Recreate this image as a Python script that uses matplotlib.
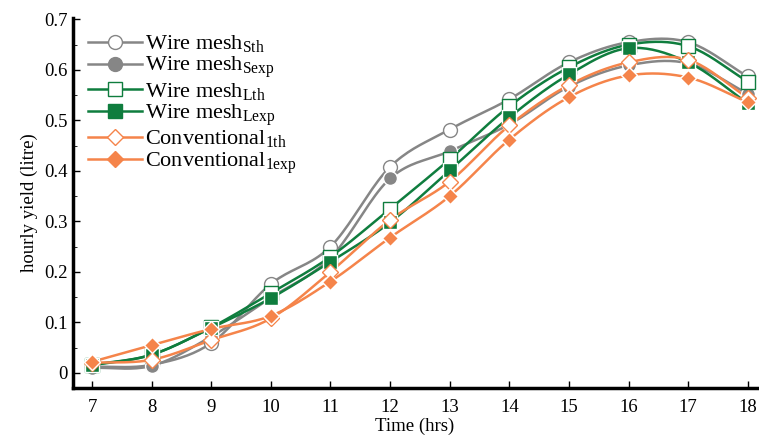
import numpy as np
import matplotlib.pyplot as plt
from matplotlib.ticker import MultipleLocator

plt.rcParams['font.family'] = ['Liberation Serif', 'DejaVu Serif']
plt.rcParams['mathtext.fontset'] = 'custom'
plt.rcParams['mathtext.rm'] = 'Liberation Serif'

hours = [7, 8, 9, 10, 11, 12, 13, 14, 15, 16, 17, 18]
wm_s_th = [0.012, 0.016, 0.059, 0.176, 0.250, 0.408, 0.482, 0.542, 0.615, 0.655, 0.655, 0.587]
wm_s_exp = [0.010, 0.014, 0.072, 0.149, 0.228, 0.385, 0.439, 0.492, 0.567, 0.609, 0.613, 0.553]
wm_l_th = [0.015, 0.036, 0.090, 0.158, 0.230, 0.325, 0.423, 0.528, 0.605, 0.650, 0.647, 0.577]
wm_l_exp = [0.016, 0.036, 0.089, 0.148, 0.220, 0.298, 0.401, 0.506, 0.591, 0.643, 0.615, 0.534]
conv_th = [0.020, 0.026, 0.065, 0.108, 0.200, 0.303, 0.379, 0.490, 0.570, 0.615, 0.620, 0.545]
conv_exp = [0.022, 0.055, 0.087, 0.113, 0.181, 0.268, 0.350, 0.462, 0.546, 0.589, 0.585, 0.536]

grey = '#868686'
green = '#0f7d3e'
orange = '#f5844a'


def smooth(x, y, n=20):
    # catmull-rom curve through the points
    x = np.asarray(x, float)
    y = np.asarray(y, float)
    px = np.concatenate([[2 * x[0] - x[1]], x, [2 * x[-1] - x[-2]]])
    py = np.concatenate([[2 * y[0] - y[1]], y, [2 * y[-1] - y[-2]]])
    t = np.linspace(0, 1, n, endpoint=False)
    xs, ys = [], []
    for i in range(1, len(px) - 2):
        for p, out in ((px, xs), (py, ys)):
            p0, p1, p2, p3 = p[i - 1], p[i], p[i + 1], p[i + 2]
            out.extend(0.5 * (2 * p1 + (-p0 + p2) * t
                              + (2 * p0 - 5 * p1 + 4 * p2 - p3) * t ** 2
                              + (-p0 + 3 * p1 - 3 * p2 + p3) * t ** 3))
    xs.append(x[-1])
    ys.append(y[-1])
    return xs, ys


series = [
    (wm_s_th, grey, 'o', 'white', r'Wire mesh$_{\mathrm{Sth}}$'),
    (wm_s_exp, grey, 'o', grey, r'Wire mesh$_{\mathrm{Sexp}}$'),
    (wm_l_th, green, 's', 'white', r'Wire mesh$_{\mathrm{Lth}}$'),
    (wm_l_exp, green, 's', green, r'Wire mesh$_{\mathrm{Lexp}}$'),
    (conv_th, orange, 'D', 'white', r'Conventional$_{\mathrm{1th}}$'),
    (conv_exp, orange, 'D', orange, r'Conventional$_{\mathrm{1exp}}$'),
]

fig = plt.figure(figsize=(7.59, 4.37), dpi=100)
ax = fig.add_axes([0.096, 0.112, 0.901, 0.847])

for vals, col, mk, fc, lab in series:
    sx, sy = smooth(hours, vals)
    ax.plot(sx, sy, color=col, lw=1.8, zorder=2)
    ms = 8 if mk == 'D' else 10
    ax.plot(hours, vals, linestyle='none', marker=mk, ms=ms, mfc=fc,
            mec=col if fc == 'white' else 'white', mew=1.0, zorder=3)
    ax.plot([], [], color=col, lw=1.8, marker=mk, ms=ms, mfc=fc,
            mec=col, mew=1.0, label=lab)

ax.set_xlim(6.68, 18.15)
ax.set_ylim(-0.03, 0.703)
ax.set_xticks(hours)
ax.set_yticks([0, 0.1, 0.2, 0.3, 0.4, 0.5, 0.6, 0.7])
ax.set_yticklabels(['0', '0.1', '0.2', '0.3', '0.4', '0.5', '0.6', '0.7'])
ax.yaxis.set_minor_locator(MultipleLocator(0.05))
ax.tick_params(direction='in', labelsize=13.5, length=5, width=1)
ax.tick_params(which='minor', direction='in', length=3)
ax.tick_params(axis='x', pad=8)
for s in ['top', 'right']:
    ax.spines[s].set_visible(False)
for s in ['left', 'bottom']:
    ax.spines[s].set_linewidth(2.5)

ax.set_xlabel('Time (hrs)', fontsize=13.5, labelpad=1)
ax.set_ylabel('hourly yield (litre)', fontsize=13.5, labelpad=5)

ax.legend(loc='upper left', frameon=False, fontsize=16, handlelength=2.4,
          labelspacing=0.0, borderaxespad=0.3, handletextpad=0.15,
          bbox_to_anchor=(0.0, 1.0))

fig.savefig('out.png', dpi=100)
